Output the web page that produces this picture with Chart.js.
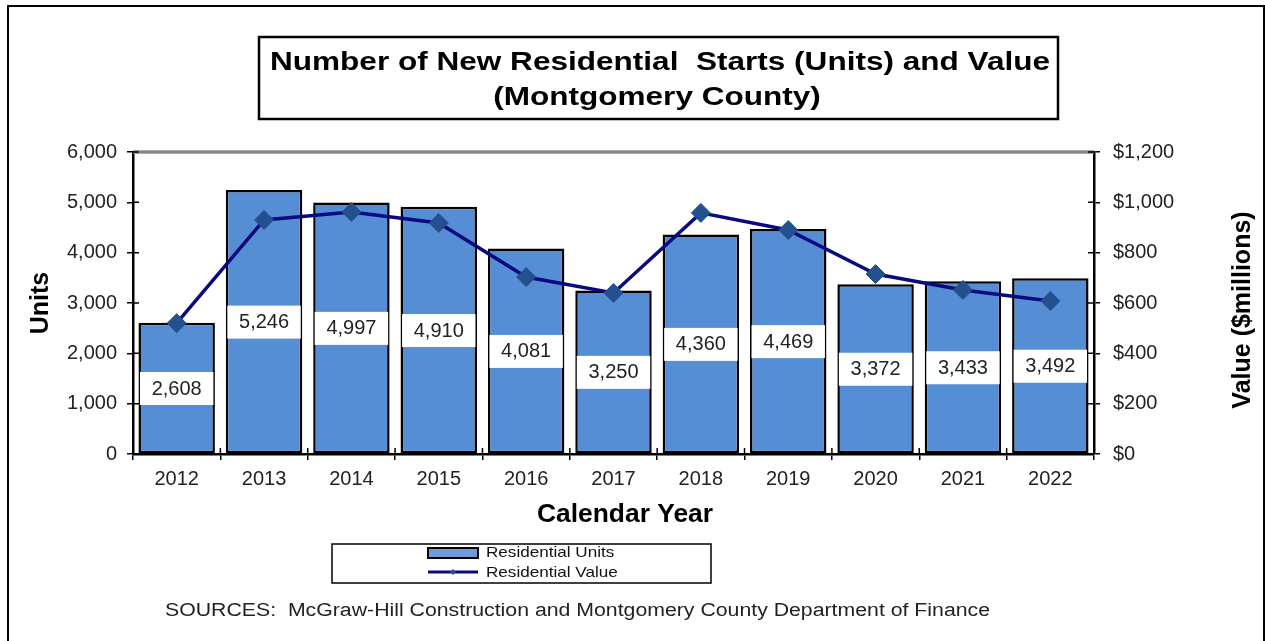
<!DOCTYPE html>
<html>
<head>
<meta charset="utf-8">
<title>Residential Starts</title>
<script src="https://cdn.jsdelivr.net/npm/chart.js@4.4.0/dist/chart.umd.min.js"></script>
<style>
  html, body { margin: 0; padding: 0; background: #fff; }
  #chart { display: block; }
</style>
</head>
<body>
<canvas id="chart" width="1265" height="641"></canvas>
<script>
// Montgomery County residential starts, 2012-2022
const years = ["2012", "2013", "2014", "2015", "2016", "2017", "2018", "2019", "2020", "2021", "2022"];
const residentialUnits = [2608, 5246, 4997, 4910, 4081, 3250, 4360, 4469, 3372, 3433, 3492];
const residentialValue = [520, 930, 962, 918, 703, 640, 958, 890, 715, 652, 608]; // $ millions

const unitsMax = 6000;
const unitsStep = 1000;
const valueMax = 1200;
const valueStep = 200;

const titleLines = ["Number of New Residential  Starts (Units) and Value", "(Montgomery County)"];
const sourceNote = "SOURCES:  McGraw-Hill Construction and Montgomery County Department of Finance";

const BAR_BLUE = "#558ED5";
const LEGEND_BLUE = "#6F9BD9";
const LINE_NAVY = "#0A0A80";
const MARKER_BLUE = "#24508E";
const FONT = "'Liberation Sans', Arial, sans-serif";

// draws text squeezed/stretched horizontally to a given width
function wideText(ctx, text, cx, cy, width) {
  const w = ctx.measureText(text).width;
  ctx.save();
  ctx.translate(cx, cy);
  ctx.scale(width / w, 1);
  ctx.textAlign = "center";
  ctx.fillText(text, 0, 0);
  ctx.restore();
}

// extra drawing: frame, inner ticks, bar labels, title box, legend, notes
const decorations = {
  id: "decorations",
  afterDatasetDraw(chart, args) {
    if (args.index !== 0) return;
    const ctx = chart.ctx;
    const meta = chart.getDatasetMeta(0);
    ctx.save();
    ctx.font = "20px " + FONT;
    ctx.textAlign = "center";
    ctx.textBaseline = "middle";
    meta.data.forEach((bar, i) => {
      const half = bar.width / 2 - 1.5;
      const midY = (bar.y + bar.base) / 2;
      ctx.fillStyle = "#fff";
      ctx.fillRect(bar.x - half, midY - 16, half * 2, 33);
      ctx.fillStyle = "#222";
      ctx.fillText(residentialUnits[i].toLocaleString("en-US"), bar.x, midY + 1);
    });
    ctx.restore();
  },
  afterDraw(chart) {
    const ctx = chart.ctx;
    const area = chart.chartArea;
    const y = chart.scales.y;
    const y1 = chart.scales.y1;
    ctx.save();

    // gray top edge of plot area
    ctx.strokeStyle = "#8a8a8a";
    ctx.lineWidth = 3.5;
    ctx.beginPath();
    ctx.moveTo(area.left, area.top);
    ctx.lineTo(area.right, area.top);
    ctx.stroke();

    // inner halves of tick marks
    ctx.strokeStyle = "#000";
    ctx.lineWidth = 1.5;
    ctx.beginPath();
    y.ticks.forEach(t => {
      const py = y.getPixelForValue(t.value);
      ctx.moveTo(area.left, py);
      ctx.lineTo(area.left + 6, py);
    });
    y1.ticks.forEach(t => {
      const py = y1.getPixelForValue(t.value);
      ctx.moveTo(area.right - 6, py);
      ctx.lineTo(area.right, py);
    });
    const step = (area.right - area.left) / years.length;
    for (let i = 0; i <= years.length; i++) {
      const px = area.left + step * i;
      ctx.moveTo(px, area.bottom - 6);
      ctx.lineTo(px, area.bottom);
    }
    ctx.stroke();

    ctx.fillStyle = "#000";
    ctx.textBaseline = "middle";

    // x axis title
    ctx.font = "bold 25px " + FONT;
    wideText(ctx, "Calendar Year", 625, 515, 176);

    // right axis title, reading bottom to top
    ctx.save();
    ctx.translate(1243, 310);
    ctx.rotate(-Math.PI / 2);
    ctx.textAlign = "center";
    ctx.fillText("Value ($millions)", 0, 0);
    ctx.restore();

    // title box
    ctx.lineWidth = 2.5;
    ctx.strokeStyle = "#000";
    ctx.strokeRect(259, 37, 799, 82);
    ctx.font = "bold 26px " + FONT;
    const titleScale = 780 / ctx.measureText(titleLines[0]).width;
    wideText(ctx, titleLines[0], 660, 63, 780);
    wideText(ctx, titleLines[1], 657, 98, ctx.measureText(titleLines[1]).width * titleScale);

    // legend
    ctx.lineWidth = 1.5;
    ctx.strokeRect(332, 544, 379, 39);
    ctx.fillStyle = LEGEND_BLUE;
    ctx.fillRect(428, 548, 50, 10);
    ctx.lineWidth = 2;
    ctx.strokeRect(428, 548, 50, 10);
    ctx.strokeStyle = LINE_NAVY;
    ctx.lineWidth = 3;
    ctx.beginPath();
    ctx.moveTo(428, 572);
    ctx.lineTo(478, 572);
    ctx.stroke();
    ctx.fillStyle = MARKER_BLUE;
    ctx.beginPath();
    ctx.moveTo(453, 569);
    ctx.lineTo(456, 572);
    ctx.lineTo(453, 575);
    ctx.lineTo(450, 572);
    ctx.closePath();
    ctx.fill();
    ctx.fillStyle = "#111";
    ctx.font = "15px " + FONT;
    const unitsW = ctx.measureText("Residential Units").width * 1.14;
    const valueW = ctx.measureText("Residential Value").width * 1.14;
    wideText(ctx, "Residential Units", 486 + unitsW / 2, 553, unitsW);
    wideText(ctx, "Residential Value", 486 + valueW / 2, 573, valueW);

    // source note
    ctx.fillStyle = "#222";
    ctx.font = "18px " + FONT;
    wideText(ctx, sourceNote, 165 + 825 / 2, 611, 825);

    // outer frame
    ctx.strokeStyle = "#000";
    ctx.lineWidth = 2;
    ctx.strokeRect(8, 6, 1256, 640);
    ctx.restore();
  }
};

const axisGrid = {
  drawOnChartArea: false,
  drawTicks: true,
  tickLength: 6,
  color: "#000",
  lineWidth: 1.5
};

new Chart(document.getElementById("chart"), {
  type: "bar",
  data: {
    labels: years,
    datasets: [
      {
        label: "Residential Units",
        data: residentialUnits,
        yAxisID: "y",
        backgroundColor: BAR_BLUE,
        borderColor: "#000",
        borderWidth: 2.5,
        borderSkipped: false,
        barPercentage: 0.875,
        categoryPercentage: 1,
        order: 1
      },
      {
        type: "line",
        label: "Residential Value",
        data: residentialValue,
        yAxisID: "y1",
        borderColor: LINE_NAVY,
        borderWidth: 3.5,
        tension: 0,
        pointStyle: "rectRot",
        pointRadius: 9.5,
        pointBackgroundColor: MARKER_BLUE,
        pointBorderColor: MARKER_BLUE,
        pointBorderWidth: 1,
        order: 0
      }
    ]
  },
  options: {
    responsive: false,
    devicePixelRatio: 1,
    animation: false,
    layout: { padding: { left: 22, top: 152, right: 20, bottom: 109 } },
    plugins: {
      legend: { display: false },
      title: { display: false },
      tooltip: { enabled: false }
    },
    scales: {
      x: {
        grid: { ...axisGrid, offset: true },
        border: { display: true, color: "#000", width: 2.5 },
        ticks: { color: "#222", font: { family: FONT, size: 20 }, padding: 7 },
        afterFit: s => { s.height = 78; }
      },
      y: {
        position: "left",
        min: 0,
        max: unitsMax,
        grid: axisGrid,
        border: { display: true, color: "#000", width: 2.5 },
        ticks: {
          stepSize: unitsStep,
          color: "#222",
          font: { family: FONT, size: 20 },
          padding: 10,
          callback: v => v.toLocaleString("en-US")
        },
        title: {
          display: true,
          text: "Units",
          color: "#000",
          font: { family: FONT, size: 25, weight: "bold" },
          padding: { top: 4, bottom: 4 }
        },
        afterFit: s => { s.width = 111; }
      },
      y1: {
        position: "right",
        min: 0,
        max: valueMax,
        grid: axisGrid,
        border: { display: true, color: "#000", width: 2.5 },
        ticks: {
          stepSize: valueStep,
          color: "#222",
          font: { family: FONT, size: 20 },
          padding: 13,
          callback: v => "$" + v.toLocaleString("en-US")
        },
        afterFit: s => { s.width = 151; }
      }
    }
  },
  plugins: [decorations]
});
</script>
</body>
</html>
